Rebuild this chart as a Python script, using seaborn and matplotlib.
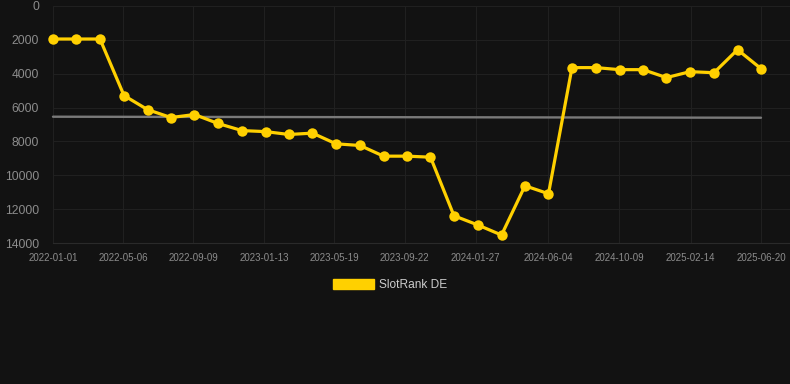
import matplotlib
matplotlib.use("Agg")
import matplotlib.pyplot as plt
from matplotlib.patches import Patch
import numpy as np
import pandas as pd
import seaborn as sns

# Dados (rank, eixo invertido)
dates = ["2022-01-01", "2022-02-12", "2022-03-26", "2022-05-08", "2022-06-19",
         "2022-07-31", "2022-09-11", "2022-10-23", "2022-12-05", "2023-01-16",
         "2023-02-27", "2023-04-10", "2023-05-22", "2023-07-04", "2023-08-15",
         "2023-09-26", "2023-11-07", "2023-12-19", "2024-01-31", "2024-03-13",
         "2024-04-24", "2024-06-05", "2024-07-17", "2024-08-29", "2024-10-10",
         "2024-11-21", "2025-01-02", "2025-02-13", "2025-03-28", "2025-05-09",
         "2025-06-20"]
ranks = [1950, 1950, 1950, 5290, 6120, 6590, 6410, 6940, 7360, 7420,
         7590, 7510, 8140, 8240, 8870, 8870, 8930, 12390, 12940, 13530,
         10620, 11090, 3640, 3640, 3760, 3760, 4230, 3880, 3940, 2580,
         3700]
trend = [6540, 6600]
tick_labels = ["2022-01-01", "2022-05-06", "2022-09-09", "2023-01-13", "2023-05-19",
               "2023-09-22", "2024-01-27", "2024-06-04", "2024-10-09", "2025-02-14",
               "2025-06-20"]
series_name = "SlotRank DE"

df = pd.DataFrame({"date": pd.to_datetime(dates), "rank": ranks})

bg = "#121212"
gold = "#ffd000"
grid_c = "#202020"
text_c = "#8c8c8c"

sns.set_style("dark")
plt.rcParams["font.family"] = ["Liberation Sans", "DejaVu Sans"]

fig = plt.figure(figsize=(7.9, 3.84), dpi=100, facecolor=bg)
ax = fig.add_axes([53 / 790, 1 - 243 / 384, 737 / 790, 237 / 384])
ax.set_facecolor(bg)

# linha de tendência
ax.plot([df["date"].iloc[0], df["date"].iloc[-1]], trend, color="#7a7a7a", linewidth=1.7, zorder=2)

sns.lineplot(data=df, x="date", y="rank", ax=ax, color=gold, linewidth=2.3,
             marker="o", markersize=7.5, markeredgewidth=0, zorder=3)
for ln in ax.lines:
    ln.set_clip_on(False)

t0 = df["date"].iloc[0]
t1 = df["date"].iloc[-1]
span = t1 - t0
ax.set_xlim(t0, t1 + span * (29 / 708))
ax.set_ylim(14000, 0)

ticks = pd.to_datetime(tick_labels)
ax.set_xticks(ticks)
ax.set_xticklabels(tick_labels)
ax.set_yticks(np.arange(0, 14001, 2000))

ax.grid(True, color=grid_c, linewidth=0.8)
ax.tick_params(axis="x", colors=grid_c, length=5, labelcolor=text_c, labelsize=7, pad=2)
ax.tick_params(axis="y", colors=grid_c, length=8, labelcolor=text_c, labelsize=8.7, pad=2)
for s in ax.spines.values():
    s.set_visible(False)
ax.spines["bottom"].set_visible(True)
ax.spines["bottom"].set_color("#2a2a2a")
ax.set_xlabel("")
ax.set_ylabel("")

handle = Patch(facecolor=gold, edgecolor=gold)
leg = fig.legend([handle], [series_name], loc="center left", bbox_to_anchor=(333 / 790, 1 - 285 / 384),
                 frameon=False, handlelength=3.4, handleheight=0.95, fontsize=8.6,
                 handletextpad=0.45, borderpad=0, borderaxespad=0)
for t in leg.get_texts():
    t.set_color("#cccccc")

fig.savefig("out.png", dpi=100, facecolor=bg)
